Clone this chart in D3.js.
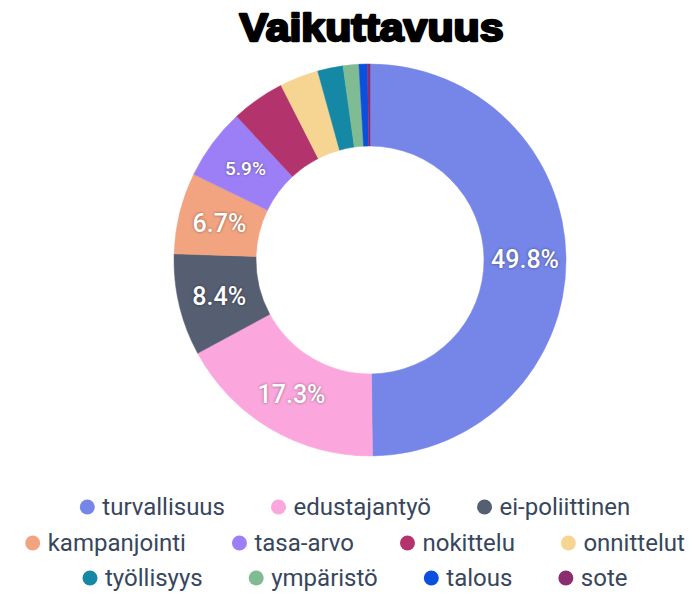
<!DOCTYPE html>
<html><head><meta charset="utf-8">
<script src="https://cdn.jsdelivr.net/npm/d3@7"></script>
<style>
html,body{margin:0;padding:0;background:#fff;}
svg{display:block;}
</style></head>
<body>
<svg id="chart" width="694" height="594"></svg>
<script>
const title = "Vaikuttavuus";
const categories = ["turvallisuus","edustajantyö","ei-poliittinen","kampanjointi","tasa-arvo","nokittelu","onnittelut","työllisyys","ympäristö","talous","sote"];
const values = [49.8, 17.3, 8.4, 6.7, 5.9, 4.4, 3.2, 2.1, 1.3, 0.7, 0.2];
const colors = ["#7586e8","#fba7dd","#565e72","#f2a481","#9c7ff6","#b3346c","#f6d592","#1488a4","#7fbb93","#0b4fde","#8a2e70"];
const legendRows = [[0,1,2],[3,4,5,6],[7,8,9,10]];

const svg = d3.select("#chart");
const cx = 370, cy = 260, R = 196, r = 114;

svg.append("text")
  .attr("x", 371.5).attr("y", 41)
  .attr("text-anchor", "middle")
  .attr("font-family", "'Liberation Sans', Arial, sans-serif")
  .attr("font-weight", 700)
  .attr("font-size", 38)
  .attr("textLength", 264)
  .attr("lengthAdjust", "spacingAndGlyphs")
  .attr("fill", "#000")
  .attr("stroke", "#000").attr("stroke-width", 2.4)
  .attr("stroke-linejoin", "round")
  .text(title);

const data = categories.map((c, i) => ({name: c, value: values[i], color: colors[i]}));
const pie = d3.pie().value(d => d.value).sort(null).startAngle(0).endAngle(2 * Math.PI);
const arc = d3.arc().innerRadius(r).outerRadius(R);
const labelArc = d3.arc().innerRadius((r + R) / 2).outerRadius((r + R) / 2);
const arcs = pie(data);

const g = svg.append("g").attr("transform", `translate(${cx},${cy})`);
g.selectAll("path").data(arcs).join("path")
  .attr("d", arc)
  .attr("fill", d => d.data.color)
  .attr("stroke", d => d.data.color)
  .attr("stroke-width", 0.5);

g.selectAll("text.lbl").data(arcs.filter(d => d.data.value >= 5)).join("text")
  .attr("class", "lbl")
  .attr("transform", d => `translate(${labelArc.centroid(d)})`)
  .attr("text-anchor", "middle")
  .attr("dy", "0.36em")
  .attr("font-family", "Roboto, sans-serif")
  .attr("font-weight", 500)
  .attr("font-size", d => d.data.value < 6 ? 19 : 25)
  .attr("fill", "#fff")
  .style("text-shadow", "0 0 3px rgba(0,0,0,0.45)")
  .text(d => d.data.value.toFixed(1) + "%");

// legend
const legend = svg.append("g");
const rowY = [507, 543, 578];
const legendCenter = 355;
const gap = 46, circR = 7.5, textOff = 15;
legendRows.forEach((row, ri) => {
  const rowG = legend.append("g");
  let x = 0;
  row.forEach(idx => {
    const item = rowG.append("g").attr("transform", `translate(${x},0)`);
    item.append("circle").attr("cx", circR).attr("cy", 0).attr("r", circR).attr("fill", colors[idx]);
    const t = item.append("text")
      .attr("x", circR + textOff)
      .attr("y", 0).attr("dy", "0.35em")
      .attr("font-family", "Roboto, sans-serif")
      .attr("font-size", 24)
      .attr("fill", "#37465c")
      .text(categories[idx]);
    const w = t.node().getComputedTextLength();
    x += circR + textOff + w + gap;
  });
  const total = x - gap;
  rowG.attr("transform", `translate(${legendCenter - total / 2},${rowY[ri]})`);
});
</script>
</body></html>
